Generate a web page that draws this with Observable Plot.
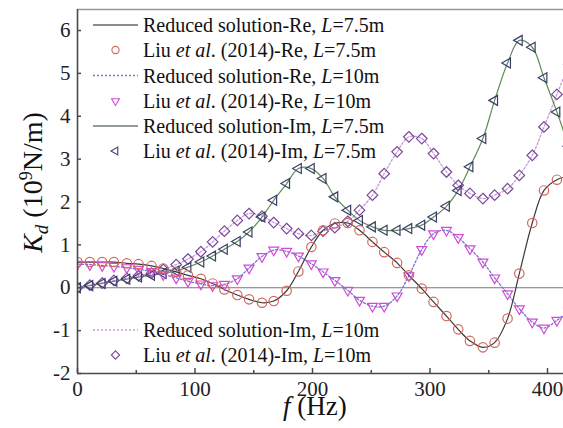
<!DOCTYPE html>
<html><head><meta charset="utf-8">
<script src="https://cdn.jsdelivr.net/npm/d3@7"></script>
<script src="https://cdn.jsdelivr.net/npm/@observablehq/plot@0.6"></script>
<style>html,body{margin:0;padding:0;background:#fff;}#chart{width:563px;height:428px;overflow:hidden;}#chart svg text{font-family:"Liberation Serif","Times New Roman",serif !important;}</style>
</head><body><div id="chart"></div>
<script>
// frequency grid (Hz)
const freq = [0,10.5,21,31,42,52,63,73,84,94,105,115,125,136,146,157,167,178,188,199,209,219,230,240,251,261,272,282,293,303,314,324,334,345,355,366,376,387,397,408,418];
// K_d (10^9 N/m)
const re75 = [0.60,0.60,0.60,0.60,0.57,0.55,0.51,0.45,0.37,0.29,0.21,0.10,-0.04,-0.17,-0.27,-0.35,-0.31,-0.07,0.38,0.95,1.34,1.50,1.51,1.34,1.07,0.83,0.58,0.29,-0.02,-0.33,-0.66,-0.97,-1.24,-1.39,-1.28,-0.72,0.33,1.51,2.27,2.52,2.60];
const re10 = [0.55,0.54,0.52,0.50,0.47,0.43,0.38,0.31,0.23,0.15,0.09,0.05,0.08,0.21,0.46,0.73,0.88,0.85,0.74,0.56,0.37,0.17,-0.06,-0.29,-0.43,-0.43,-0.19,0.28,0.89,1.26,1.34,1.17,0.91,0.60,0.23,-0.14,-0.49,-0.80,-0.94,-0.76,-0.55];
const im75 = [0.00,0.05,0.10,0.15,0.20,0.25,0.29,0.33,0.39,0.48,0.60,0.74,0.90,1.08,1.30,1.65,2.04,2.43,2.78,2.78,2.55,2.12,1.81,1.57,1.42,1.34,1.34,1.38,1.46,1.65,1.90,2.27,2.82,3.48,4.37,5.24,5.77,5.61,4.90,4.10,3.30];
const im10 = [0.00,0.06,0.11,0.17,0.22,0.28,0.34,0.43,0.54,0.67,0.84,1.07,1.32,1.57,1.73,1.67,1.52,1.38,1.26,1.22,1.32,1.40,1.55,1.81,2.16,2.66,3.17,3.52,3.48,3.13,2.70,2.39,2.20,2.08,2.16,2.31,2.62,3.09,3.75,4.51,5.20];

const xTicks = [0,100,200,300,400];
const xMinorTicks = [50,150,250,350];
const yTicks = [-2,-1,0,1,2,3,4,5,6];
const xDomain = [0, 413.6];
const yDomain = [-2, 6.49];

// legend text: [text, italic]
const legendTop = [
  [["Reduced solution-Re, ",0],["L",1],["=7.5m",0]],
  [["Liu ",0],["et al",1],[". (2014)-Re, ",0],["L",1],["=7.5m",0]],
  [["Reduced solution-Re, ",0],["L",1],["=10m",0]],
  [["Liu ",0],["et al",1],[". (2014)-Re, ",0],["L",1],["=10m",0]],
  [["Reduced solution-Im, ",0],["L",1],["=7.5m",0]],
  [["Liu ",0],["et al",1],[". (2014)-Im, ",0],["L",1],["=7.5m",0]]
];
const legendBottom = [
  [["Reduced solution-Im, ",0],["L",1],["=10m",0]],
  [["Liu ",0],["et al",1],[". (2014)-Im, ",0],["L",1],["=10m",0]]
];

const C = {
  re75Line: "#3a3a3a", re75Pt: "#d4675c",
  re10Line: "#7a72cc", re10Pt: "#d24ad6",
  im75Line: "#5e8e58", im75Pt: "#3c3c6c",
  im10Line: "#c39ad6", im10Pt: "#7a4798",
  axis: "#4a4a4a"
};

const rows = freq.map((f, i) => ({f, re75: re75[i], re10: re10[i], im75: im75[i], im10: im10[i]}));

const triDown = {draw(ctx, size){const r = Math.sqrt(size/Math.PI)*1.25; ctx.moveTo(0, r); ctx.lineTo(-r*0.866, -r*0.5); ctx.lineTo(r*0.866, -r*0.5); ctx.closePath();}};
const triLeft = {draw(ctx, size){const r = Math.sqrt(size/Math.PI)*1.25; ctx.moveTo(-r, 0); ctx.lineTo(r*0.5, -r*0.866); ctx.lineTo(r*0.5, r*0.866); ctx.closePath();}};
const diam = {draw(ctx, size){const r = Math.sqrt(size/Math.PI)*1.15; ctx.moveTo(0, -r); ctx.lineTo(r, 0); ctx.lineTo(0, r); ctx.lineTo(-r, 0); ctx.closePath();}};
const circ = {draw(ctx, size){const r = Math.sqrt(size/Math.PI); ctx.moveTo(r, 0); ctx.arc(0, 0, r, 0, 2*Math.PI);}};

const font = "Liberation Serif, Times New Roman, serif";

const plot = Plot.plot({
  width: 563, height: 428,
  marginLeft: 77, marginRight: 0, marginTop: 9, marginBottom: 55,
  style: {fontFamily: font, fontSize: "21px", background: "#fff", color: "#222"},
  x: {domain: xDomain},
  y: {domain: yDomain},
  marks: [
    Plot.ruleY([0], {stroke: "#777", strokeWidth: 1}),
    Plot.line(rows, {x: "f", y: "im10", curve: "catmull-rom", stroke: C.im10Line, strokeWidth: 1.3, strokeDasharray: "2,2", clip: true}),
    Plot.line(rows, {x: "f", y: "re10", curve: "catmull-rom", stroke: C.re10Line, strokeWidth: 1.3, strokeDasharray: "2,2", clip: true}),
    Plot.line(rows, {x: "f", y: "im75", curve: "catmull-rom", stroke: C.im75Line, strokeWidth: 1.2, clip: true}),
    Plot.line(rows, {x: "f", y: "re75", curve: "catmull-rom", stroke: C.re75Line, strokeWidth: 1.2, clip: true}),
    Plot.dot(rows, {x: "f", y: "im10", symbol: diam, r: 4.6, stroke: C.im10Pt, strokeWidth: 1.2, fill: "none", clip: true}),
    Plot.dot(rows, {x: "f", y: "im75", symbol: triLeft, r: 4.6, stroke: C.im75Pt, strokeWidth: 1.2, fill: "none", clip: true}),
    Plot.dot(rows, {x: "f", y: "re10", symbol: triDown, r: 4.6, stroke: C.re10Pt, strokeWidth: 1.2, fill: "none", clip: true}),
    Plot.dot(rows, {x: "f", y: "re75", symbol: circ, r: 4.7, stroke: C.re75Pt, strokeWidth: 1.2, fill: "none", clip: true}),
    Plot.ruleY([yDomain[1]], {stroke: "#999", strokeWidth: 1.5}),
    Plot.ruleX([xDomain[0]], {stroke: C.axis, strokeWidth: 1.6}),
    Plot.ruleY([yDomain[0]], {stroke: C.axis, strokeWidth: 1.6}),
    Plot.axisY({ticks: yTicks, anchor: "left", tickSize: -4, tickPadding: 11, stroke: C.axis, strokeWidth: 1.5, tickFormat: d => String(d), label: null, fontSize: 21, fontFamily: font, fill: "#222"}),
    Plot.axisX({ticks: xTicks, anchor: "bottom", tickSize: -5, tickPadding: 13, stroke: C.axis, strokeWidth: 1.5, tickFormat: d => String(d), label: null, fontSize: 21, fontFamily: font, fill: "#222"}),
    Plot.axisX({ticks: xMinorTicks, anchor: "bottom", tickSize: -3, text: null, stroke: C.axis, strokeWidth: 1.5, label: null})
  ]
});

document.getElementById("chart").appendChild(plot);

const svg = d3.select(plot);
const g = svg.append("g").attr("font-family", font).attr("fill", "#111").attr("text-anchor", "start");

function addRich(parent, x, y, parts, size) {
  const t = parent.append("text").attr("x", x).attr("y", y).attr("font-size", size).attr("text-anchor", "start");
  parts.forEach(([s, it]) => {
    const sp = t.append("tspan").text(s);
    if (it) sp.attr("font-style", "italic");
  });
  return t;
}
function symPath(sym, r) { const p = d3.path(); sym.draw(p, Math.PI*r*r); return p.toString(); }

const legendSamples = [
  {type: "line", stroke: "#666", dash: null},
  {type: "sym", sym: circ, stroke: C.re75Pt},
  {type: "line", stroke: C.re10Line, dash: "2,2"},
  {type: "sym", sym: triDown, stroke: C.re10Pt},
  {type: "line", stroke: "#6d7d6b", dash: null},
  {type: "sym", sym: triLeft, stroke: C.im75Pt}
];
const legendSamplesBottom = [
  {type: "line", stroke: C.im10Line, dash: "2,2"},
  {type: "sym", sym: diam, stroke: C.im10Pt}
];
const topY = [25, 50, 75.5, 101, 126, 151];
const botY = [330, 355];
function drawLegend(labels, samples, ys) {
  labels.forEach((parts, i) => {
    const y = ys[i], s = samples[i];
    if (s.type === "line") {
      const l = g.append("line").attr("x1", 93).attr("x2", 138).attr("y1", y).attr("y2", y)
        .attr("stroke", s.stroke).attr("stroke-width", 1.3);
      if (s.dash) l.attr("stroke-dasharray", s.dash);
    } else {
      g.append("path").attr("transform", `translate(115.5,${y})`).attr("d", symPath(s.sym, 3.6))
        .attr("fill", "none").attr("stroke", s.stroke).attr("stroke-width", 1.1);
    }
    addRich(g, 143, y + 7, parts, 20);
  });
}
drawLegend(legendTop, legendSamples, topY);
drawLegend(legendBottom, legendSamplesBottom, botY);

// axis titles
const xt = g.append("text").attr("x", 283).attr("y", 415).attr("font-size", 27).attr("text-anchor", "start");
xt.append("tspan").attr("font-style", "italic").text("f");
xt.append("tspan").text(" (Hz)");

const yt = g.append("text").attr("transform", "translate(42,182.5) rotate(-90)").attr("text-anchor", "middle").attr("font-size", 28);
yt.append("tspan").attr("font-style", "italic").text("K");
yt.append("tspan").attr("font-style", "italic").attr("font-size", 19).attr("dy", 6).text("d");
yt.append("tspan").attr("dy", -6).text(" (10");
yt.append("tspan").attr("font-size", 18).attr("dy", -10).text("9");
yt.append("tspan").attr("dy", 10).text("N/m)");

svg.selectAll("text").style("font-family", font);
</script>
</body></html>
